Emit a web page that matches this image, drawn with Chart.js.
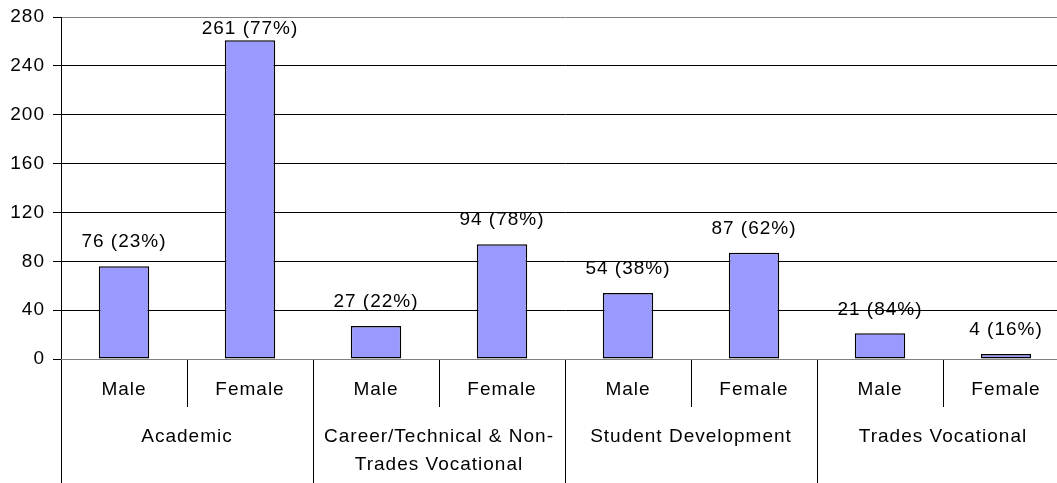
<!DOCTYPE html>
<html>
<head>
<meta charset="utf-8">
<script src="https://cdn.jsdelivr.net/npm/chart.js@4"></script>
<style>
  html, body { margin: 0; padding: 0; background: #fff; overflow: hidden; }
  #wrap { position: relative; width: 1069px; height: 483px; }
</style>
</head>
<body>
<div id="wrap"><canvas id="chart"></canvas></div>
<script>
const subLabels = ['Male', 'Female', 'Male', 'Female', 'Male', 'Female', 'Male', 'Female'];
const groupLabels = ['Academic', ['Career/Technical & Non-', 'Trades Vocational'], 'Student Development', 'Trades Vocational'];
const counts = [76, 261, 27, 94, 54, 87, 21, 4];
const shares = [23, 77, 22, 78, 38, 62, 84, 16];

const FONT = "'Liberation Sans', Arial, sans-serif";
const GRAY = '#808080';

// Excel text looks a bit wider than canvas Arial, so space the letters a little
const spacing = {
  id: 'spacing',
  beforeLayout(chart) { chart.ctx.letterSpacing = '1px'; },
  beforeDraw(chart) { chart.ctx.letterSpacing = '1px'; }
};

// value labels above each bar, e.g. "76 (23%)"
const barLabels = {
  id: 'barLabels',
  afterDatasetsDraw(chart) {
    const ctx = chart.ctx;
    const top = chart.chartArea.top;
    ctx.save();
    ctx.letterSpacing = '1px';
    ctx.font = '19px ' + FONT;
    ctx.fillStyle = '#000';
    ctx.textAlign = 'center';
    ctx.textBaseline = 'middle';
    chart.getDatasetMeta(0).data.forEach((bar, i) => {
      const y = Math.max(bar.y - 24, top + 12);
      ctx.fillText(counts[i] + ' (' + shares[i] + '%)', bar.x, y);
    });
    ctx.restore();
  }
};

new Chart(document.getElementById('chart'), {
  type: 'bar',
  data: {
    labels: subLabels,
    datasets: [{
      data: counts,
      backgroundColor: '#9999FF',
      borderColor: '#000',
      borderWidth: 1.5,
      borderSkipped: false,
      barPercentage: 0.4,
      categoryPercentage: 1.0
    }]
  },
  options: {
    responsive: true,
    maintainAspectRatio: false,
    animation: false,
    layout: { padding: { top: 8, left: 0, right: 0, bottom: 0 } },
    plugins: {
      legend: { display: false },
      tooltip: { enabled: false }
    },
    scales: {
      y: {
        min: 0,
        max: 280,
        afterFit: s => { s.width = 61; },
        ticks: {
          stepSize: 40,
          color: '#000',
          padding: 8,
          font: { family: FONT, size: 19, lineHeight: '18px' }
        },
        grid: {
          color: c => (c.tick && (c.tick.value === 0 || c.tick.value === 280)) ? GRAY : '#000',
          tickColor: '#000',
          tickLength: 8,
          lineWidth: 1
        },
        border: { display: true, color: '#000', width: 1 }
      },
      // first row: Male / Female, short separators
      x: {
        weight: 0,
        offset: true,
        afterFit: s => { s.height = 48; },
        ticks: {
          color: '#000',
          autoSkip: false,
          maxRotation: 0,
          padding: -29,
          font: { family: FONT, size: 19, lineHeight: 1.2 }
        },
        grid: {
          offset: true,
          drawOnChartArea: false,
          color: '#000',
          tickLength: 48
        },
        border: { display: true, color: GRAY, width: 1 }
      },
      // second row: program groups, separators run to the bottom
      x2: {
        type: 'category',
        position: 'bottom',
        weight: 1,
        labels: groupLabels,
        offset: true,
        afterFit: s => { s.height = 76; },
        ticks: {
          color: '#000',
          autoSkip: false,
          maxRotation: 0,
          padding: -60,
          font: { family: FONT, size: 19, lineHeight: '28px' }
        },
        grid: {
          offset: true,
          drawOnChartArea: false,
          color: '#000',
          tickLength: 76
        },
        border: { display: false }
      }
    }
  },
  plugins: [spacing, barLabels]
});
</script>
</body>
</html>
